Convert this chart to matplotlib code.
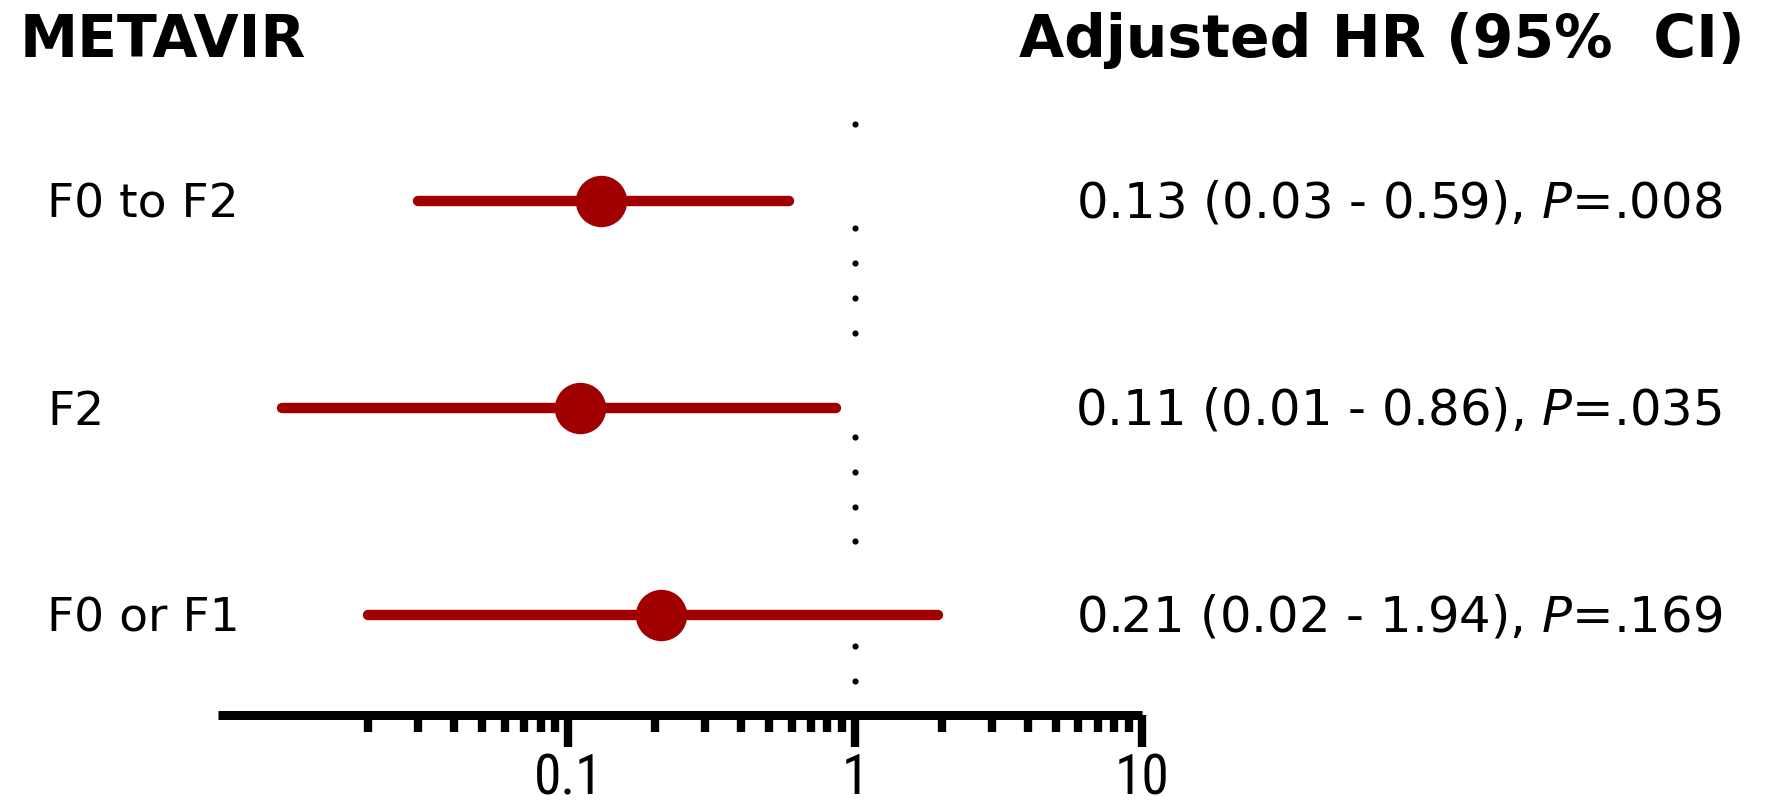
import numpy as np
import matplotlib
matplotlib.use('Agg')
import matplotlib.pyplot as plt
from matplotlib import transforms, font_manager
from matplotlib.ticker import FixedLocator, NullFormatter

# data
groups = ['F0 to F2', 'F2', 'F0 or F1']
hr = [0.13, 0.11, 0.21]
ci_low = [0.03, 0.01, 0.02]
ci_high = [0.59, 0.86, 1.94]
p_values = ['.008', '.035', '.169']
major_ticks = [0.1, 1, 10]
major_labels = ['0.1', '1', '10']
minor_ticks = [m * d for d in (0.01, 0.1, 1) for m in range(2, 10)]

red = '#A00000'
W, H = 1767, 810


def first_font(candidates):
    for name in candidates:
        try:
            font_manager.findfont(name, fallback_to_default=False)
            return name
        except ValueError:
            pass
    return 'Liberation Sans'


narrow = first_font(['Liberation Sans Narrow', 'Roboto Condensed', 'Archivo Narrow',
                     'Open Sans Condensed', 'Liberation Sans'])

plt.rcParams['mathtext.fontset'] = 'custom'
plt.rcParams['mathtext.it'] = 'DejaVu Sans:italic'
plt.rcParams['mathtext.rm'] = 'DejaVu Sans'

fig = plt.figure(figsize=(W / 100, H / 100), dpi=100)
ax = fig.add_axes([218 / W, (H - 715) / H, (1142 - 218) / W, 715 / H])

ypos = np.arange(len(groups), 0, -1)

# confidence intervals and point estimates
for y, lo, hi, est in zip(ypos, ci_low, ci_high, hr):
    ax.plot([lo, hi], [y, y], color=red, lw=7.5, solid_capstyle='round', zorder=3)
    ax.plot(est, y, 'o', color=red, markersize=36, zorder=4)

# dotted reference line at HR = 1, with gaps beside the rows
dots = 3.371 - 0.168 * np.arange(17)
keep = np.ones(len(dots), bool)
for y in ypos:
    keep &= ~((dots > y - 0.05) & (dots < y + 0.25))
ax.plot(np.ones(keep.sum()), dots[keep], 'o', color='black', markersize=3.4, zorder=2)

ax.set_xscale('log')
ax.set_xlim(0.006, 10)
ax.set_ylim(0.517, 3.97)

for s in ['top', 'right', 'left']:
    ax.spines[s].set_visible(False)
ax.spines['bottom'].set_linewidth(6.5)
ax.spines['bottom'].set_capstyle('butt')
ax.set_yticks([])

ax.xaxis.set_major_locator(FixedLocator(major_ticks))
ax.xaxis.set_minor_locator(FixedLocator(minor_ticks))
ax.xaxis.set_minor_formatter(NullFormatter())
ax.set_xticks(major_ticks, major_labels)
ax.tick_params(axis='x', which='major', direction='out', length=23, width=6, pad=4,
               labelsize=40)
ax.tick_params(axis='x', which='minor', direction='out', length=12, width=6)
for lab in ax.get_xticklabels():
    lab.set_fontfamily(narrow)

# headers
fig.text(20 / W, 1 - 57 / H, 'METAVIR', fontsize=42, fontweight='bold',
         family='DejaVu Sans', ha='left', va='baseline')
fig.text(1745 / W, 1 - 57 / H, 'Adjusted HR (95%  CI)', fontsize=42, fontweight='bold',
         family='DejaVu Sans', ha='right', va='baseline')

# row labels and estimate text, baseline shifted so the caps centre on the row
left_tr = transforms.blended_transform_factory(fig.transFigure, ax.transData)
shift = transforms.ScaledTranslation(0, -17 / 100, fig.dpi_scale_trans)
for y, g, est, lo, hi, p in zip(ypos, groups, hr, ci_low, ci_high, p_values):
    ax.text(47 / W, y, g, transform=left_tr + shift, fontsize=34,
            family='DejaVu Sans', ha='left', va='baseline')
    label = f'{est:.2f} ({lo:.2f} - {hi:.2f}), $\\mathit{{P}}$={p}'
    ax.text(1722 / W, y, label, transform=left_tr + shift, fontsize=35.8,
            family='DejaVu Sans', ha='right', va='baseline')

fig.savefig('out.png', dpi=100, facecolor='white')
